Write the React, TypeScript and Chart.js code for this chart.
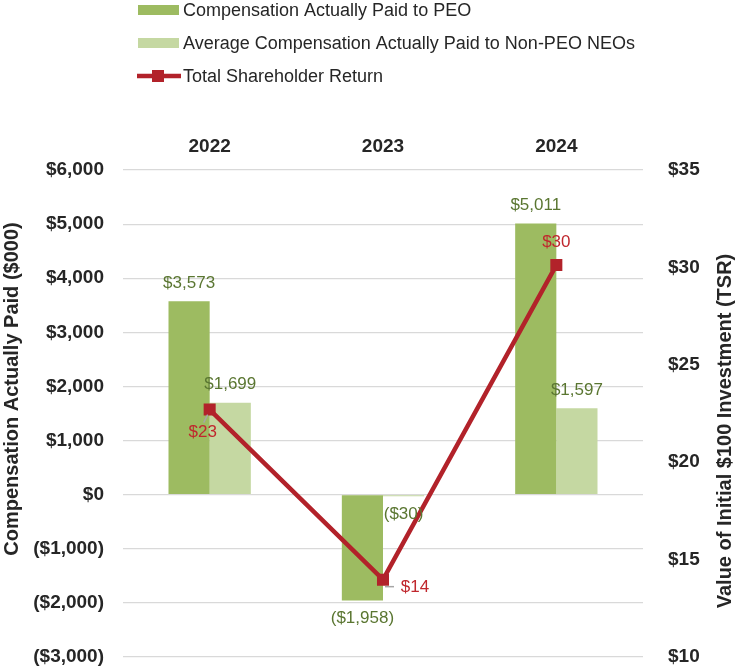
import { useEffect, useRef } from 'react';
import { Chart, registerables } from 'chart.js';

Chart.register(...registerables);

const categories = ['2022', '2023', '2024'];
const peoValues = [3573, -1958, 5011];
const nonPeoValues = [1699, -30, 1597];
const tsrValues = [22.7, 13.97, 30.12];
const tsrLabels = ['$23', '$14', '$30'];
const seriesNames = [
  'Compensation Actually Paid to PEO',
  'Average Compensation Actually Paid to Non-PEO NEOs',
  'Total Shareholder Return',
];
const leftAxisTitle = 'Compensation Actually Paid ($000)';
const rightAxisTitle = 'Value of Initial $100 Investment (TSR)';
const leftAxisRange = { min: -3000, max: 6000, step: 1000 };
const rightAxisRange = { min: 10, max: 35, step: 5 };

const PEO_COLOR = '#9dbb61';
const NONPEO_COLOR = '#c5d8a2';
const TSR_COLOR = '#b2222a';
const BAR_LABEL_COLOR = '#5a7631';
const TSR_LABEL_COLOR = '#c0272d';
const TEXT_COLOR = '#262626';
const FONT = '"Liberation Sans", Arial, sans-serif';

const fmtMoney = (v: number) => {
  const s = '$' + Math.abs(v).toLocaleString('en-US');
  return v < 0 ? '(' + s + ')' : s;
};

const tsrOffsets = [
  { dx: -7, dy: 23 },
  { dx: 32, dy: 8 },
  { dx: 0, dy: -23 },
];

const legendPlugin = {
  id: 'customLegend',
  afterDraw(chart: any) {
    const ctx = chart.ctx;
    ctx.save();
    ctx.font = `18px ${FONT}`;
    ctx.textBaseline = 'middle';
    ctx.textAlign = 'left';
    const rows = [
      { y: 10, kind: 'bar', color: PEO_COLOR },
      { y: 43, kind: 'bar', color: NONPEO_COLOR },
      { y: 76, kind: 'line', color: TSR_COLOR },
    ];
    rows.forEach((r, i) => {
      if (r.kind === 'bar') {
        ctx.fillStyle = r.color;
        ctx.fillRect(138, r.y - 5, 41, 10);
      } else {
        ctx.strokeStyle = r.color;
        ctx.lineWidth = 4.5;
        ctx.beginPath();
        ctx.moveTo(137, r.y);
        ctx.lineTo(181, r.y);
        ctx.stroke();
        ctx.fillStyle = r.color;
        ctx.fillRect(158 - 6, r.y - 6, 12, 12);
      }
      ctx.fillStyle = TEXT_COLOR;
      ctx.fillText(seriesNames[i], 183, r.y + 1);
    });
    ctx.restore();
  },
};

const titlesPlugin = {
  id: 'axisTitles',
  afterDraw(chart: any) {
    const ctx = chart.ctx;
    ctx.save();
    ctx.font = `bold 20px ${FONT}`;
    ctx.fillStyle = TEXT_COLOR;
    ctx.textAlign = 'center';
    ctx.textBaseline = 'alphabetic';
    ctx.translate(18, 389);
    ctx.rotate(-Math.PI / 2);
    ctx.fillText(leftAxisTitle, 0, 0);
    ctx.restore();
    ctx.save();
    ctx.font = `bold 20px ${FONT}`;
    ctx.fillStyle = TEXT_COLOR;
    ctx.textAlign = 'center';
    ctx.textBaseline = 'alphabetic';
    ctx.translate(731, 431);
    ctx.rotate(-Math.PI / 2);
    ctx.fillText(rightAxisTitle, 0, 0);
    ctx.restore();
  },
};

const labelsPlugin = {
  id: 'valueLabels',
  afterDatasetsDraw(chart: any) {
    const ctx = chart.ctx;
    ctx.save();
    ctx.font = `17px ${FONT}`;
    ctx.textAlign = 'center';
    ctx.textBaseline = 'middle';
    [0, 1].forEach((di) => {
      const meta = chart.getDatasetMeta(di);
      const data = chart.data.datasets[di].data as number[];
      meta.data.forEach((el: any, i: number) => {
        const v = data[i];
        const y = v >= 0 ? el.y - 18 : el.y + 18;
        ctx.fillStyle = BAR_LABEL_COLOR;
        ctx.fillText(fmtMoney(v), el.x, y);
      });
    });
    const lmeta = chart.getDatasetMeta(2);
    lmeta.data.forEach((pt: any, i: number) => {
      const o = tsrOffsets[i];
      ctx.strokeStyle = '#a6a6a6';
      ctx.lineWidth = 1.5;
      if (i === 0) {
        ctx.beginPath();
        ctx.moveTo(pt.x - 2, pt.y + 5);
        ctx.lineTo(pt.x - 6, pt.y + 13);
        ctx.stroke();
      } else if (i === 1) {
        ctx.beginPath();
        ctx.moveTo(pt.x + 2, pt.y + 7);
        ctx.lineTo(pt.x + 11, pt.y + 7);
        ctx.stroke();
      }
      ctx.fillStyle = TSR_LABEL_COLOR;
      ctx.fillText(tsrLabels[i], pt.x + o.dx, pt.y + o.dy);
    });
    ctx.restore();
  },
};

export default function App() {
  const ref = useRef<HTMLCanvasElement>(null);
  useEffect(() => {
    if (!ref.current) return;
    const chart = new Chart(ref.current, {
      type: 'bar',
      data: {
        labels: categories,
        datasets: [
          {
            type: 'bar',
            label: seriesNames[0],
            data: peoValues,
            backgroundColor: PEO_COLOR,
            yAxisID: 'y',
            order: 1,
            categoryPercentage: 0.475,
            barPercentage: 1,
          },
          {
            type: 'bar',
            label: seriesNames[1],
            data: nonPeoValues,
            backgroundColor: NONPEO_COLOR,
            yAxisID: 'y',
            order: 1,
            categoryPercentage: 0.475,
            barPercentage: 1,
          },
          {
            type: 'line',
            label: seriesNames[2],
            data: tsrValues,
            borderColor: TSR_COLOR,
            backgroundColor: TSR_COLOR,
            borderWidth: 4.5,
            pointStyle: 'rect',
            pointRadius: 8.5,
            pointBorderWidth: 0,
            pointBackgroundColor: TSR_COLOR,
            yAxisID: 'y1',
            order: 0,
            tension: 0,
          } as any,
        ],
      },
      options: {
        animation: false,
        responsive: false,
        maintainAspectRatio: false,
        devicePixelRatio: 1,
        layout: { padding: { top: 0, bottom: 10, left: 0, right: 0 } },
        plugins: {
          legend: { display: false },
          tooltip: { enabled: false },
          title: { display: false },
        },
        scales: {
          x: {
            position: 'top',
            grid: { display: false, drawTicks: false },
            border: { display: false },
            ticks: {
              color: TEXT_COLOR,
              font: { family: FONT, size: 19, weight: 'bold' },
              padding: 12,
            },
            afterFit: (s: any) => {
              s.height = 170;
            },
          },
          y: {
            position: 'left',
            min: leftAxisRange.min,
            max: leftAxisRange.max,
            grid: {
              color: '#d9d9d9',
              lineWidth: 1.2,
              drawTicks: true,
              tickLength: 19,
              tickColor: 'rgba(0,0,0,0)',
            },
            border: { display: false },
            ticks: {
              stepSize: leftAxisRange.step,
              color: TEXT_COLOR,
              font: { family: FONT, size: 19, weight: 'bold', lineHeight: 1 },
              padding: 0,
              callback: (v: any) => fmtMoney(Number(v)),
            },
            afterFit: (s: any) => {
              s.width = 123;
            },
          },
          y1: {
            position: 'right',
            min: rightAxisRange.min,
            max: rightAxisRange.max,
            grid: {
              display: false,
              drawOnChartArea: false,
              drawTicks: true,
              tickLength: 25,
              tickColor: 'rgba(0,0,0,0)',
            },
            border: { display: false },
            ticks: {
              stepSize: rightAxisRange.step,
              color: TEXT_COLOR,
              font: { family: FONT, size: 19, weight: 'bold', lineHeight: 1 },
              padding: 0,
              callback: (v: any) => '$' + Number(v),
            },
            afterFit: (s: any) => {
              s.width = 100;
            },
          },
        },
      },
      plugins: [legendPlugin, titlesPlugin, labelsPlugin],
    });
    return () => chart.destroy();
  }, []);
  return (
    <div style={{ position: 'fixed', left: 0, top: 0, width: 743, height: 667 }}>
      <canvas ref={ref} width={743} height={667} style={{ display: 'block', width: 743, height: 667 }} />
    </div>
  );
}
